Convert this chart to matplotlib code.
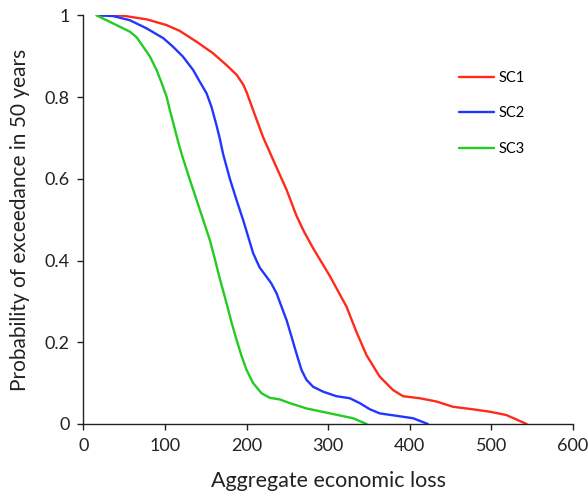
import matplotlib
matplotlib.use("Agg")
import matplotlib.pyplot as plt

plt.rcParams['font.family'] = ['Lato', 'DejaVu Sans']

# exceedance curves
sc1_x = [20, 35, 49, 78, 102, 118, 139, 159, 175.5, 188, 196, 200, 208, 220,
         232.6, 249, 261, 270, 281.5, 302, 322.4, 334.6, 347, 363, 379.4, 391.7,
         412, 432.6, 453, 477, 498, 518, 543]
sc1_y = [1.0, 1.0, 0.999, 0.990, 0.976, 0.962, 0.935, 0.907, 0.878, 0.854,
         0.830, 0.812, 0.768, 0.703, 0.646, 0.573, 0.510, 0.472, 0.430, 0.362,
         0.287, 0.225, 0.168, 0.116, 0.083, 0.068, 0.063, 0.055, 0.042, 0.036,
         0.030, 0.022, 0.0]

sc2_x = [20, 36.7, 57, 77.6, 98, 110, 122, 134.6, 142.8, 151, 157, 163, 167,
         171.3, 179.5, 187.7, 195.8, 202, 208, 216, 224.5, 230, 236.7, 242.8,
         249, 255, 261, 267.3, 273.4, 281.5, 293.8, 310, 326.4, 338.7, 351, 363,
         383.6, 404, 422]
sc2_y = [1.0, 0.998, 0.988, 0.968, 0.944, 0.923, 0.899, 0.866, 0.837, 0.809,
         0.776, 0.732, 0.700, 0.660, 0.600, 0.548, 0.499, 0.458, 0.418, 0.383,
         0.360, 0.345, 0.320, 0.287, 0.254, 0.214, 0.173, 0.132, 0.108, 0.091,
         0.079, 0.068, 0.063, 0.051, 0.036, 0.026, 0.020, 0.014, 0.0]

sc3_x = [16, 36.7, 57, 65.4, 73.4, 81.6, 89.8, 96, 102, 106, 110, 114, 118,
         122.4, 130.6, 138.8, 146.9, 155, 161.2, 167.3, 175.5, 181.6, 187.7,
         193.9, 200, 208, 218.4, 228.5, 240.8, 253, 273.4, 302, 330.5, 347]
sc3_y = [1.0, 0.980, 0.960, 0.946, 0.923, 0.899, 0.866, 0.834, 0.801, 0.768,
         0.738, 0.707, 0.677, 0.648, 0.597, 0.548, 0.499, 0.450, 0.403, 0.355,
         0.295, 0.248, 0.206, 0.166, 0.132, 0.100, 0.075, 0.064, 0.060, 0.051,
         0.038, 0.026, 0.014, 0.0]

series = [("SC1", sc1_x, sc1_y, "#ff2a1a"),
          ("SC2", sc2_x, sc2_y, "#2236ff"),
          ("SC3", sc3_x, sc3_y, "#22cc22")]

fig = plt.figure(figsize=(5.88, 4.91), dpi=100)
ax = fig.add_axes([0.1417, 0.1365, 0.833, 0.8323])

for name, xs, ys, col in series:
    ax.plot(xs, ys, color=col, lw=1.7, label=name,
            solid_capstyle='round', solid_joinstyle='round')

ax.set_xlim(0, 600)
ax.set_ylim(0, 1)
ax.set_xticks([0, 100, 200, 300, 400, 500, 600])
ax.set_yticks([0, 0.2, 0.4, 0.6, 0.8, 1])
ax.set_yticklabels(['0', '0.2', '0.4', '0.6', '0.8', '1'])

for s in ['top', 'right']:
    ax.spines[s].set_visible(False)
for s in ['left', 'bottom']:
    ax.spines[s].set_color('#222222')
    ax.spines[s].set_linewidth(1.0)
ax.tick_params(direction='out', length=4, width=1, color='#222222',
               labelsize=13, labelcolor='#222222', pad=6)

ax.set_xlabel('Aggregate economic loss', fontsize=15.5, color='#222222',
              labelpad=12)
ax.set_ylabel('Probability of exceedance in 50 years', fontsize=15,
              color='#222222', labelpad=10)

ax.legend(loc='upper left', bbox_to_anchor=(0.74, 0.895), frameon=False,
          fontsize=10.5, handlelength=2.4, handletextpad=0.3, labelspacing=1.45)

fig.savefig('out.png', dpi=100)
